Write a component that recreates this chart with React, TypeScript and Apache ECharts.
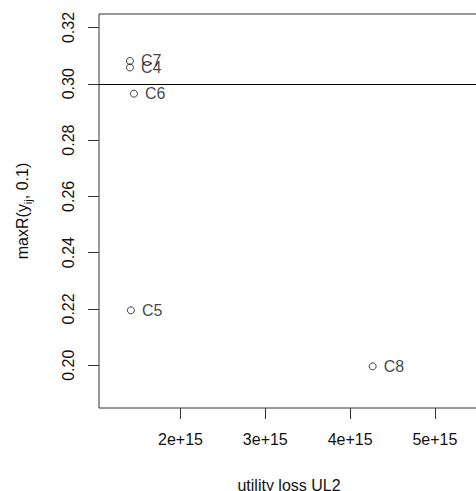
import React, { useEffect, useRef } from "react";
import * as echarts from "echarts";

const labels = ["C7", "C4", "C6", "C5", "C8"];
const xValues = [1.404e15, 1.404e15, 1.451e15, 1.415e15, 4.266e15];
const yValues = [0.3081, 0.3058, 0.2965, 0.2195, 0.1996];
const xTicks = [2e15, 3e15, 4e15, 5e15];
const yTicks = [0.2, 0.22, 0.24, 0.26, 0.28, 0.3, 0.32];
const hLine = 0.3;

const FONT = "'Liberation Sans', Arial, sans-serif";
const INK = "#111";

export default function App() {
  const ref = useRef<HTMLDivElement>(null);
  useEffect(() => {
    if (!ref.current) return;
    const chart = echarts.init(ref.current, null, { renderer: "svg" });
    const data = labels.map((l, i) => ({ name: l, value: [xValues[i], yValues[i]] }));
    chart.setOption({
      animation: false,
      backgroundColor: "#fff",
      textStyle: { fontFamily: FONT },
      grid: {
        left: 99,
        top: 14,
        right: -3,
        bottom: 83,
        show: true,
        borderColor: "#333",
        borderWidth: 1,
        containLabel: false,
        outerBoundsMode: "none",
      },
      xAxis: {
        type: "value",
        min: 1.039e15,
        max: 5.52e15,
        splitLine: { show: false },
        axisLine: { show: false },
        axisTick: { show: true, inside: false, length: 11, customValues: xTicks, lineStyle: { color: "#333" } },
        axisLabel: {
          customValues: xTicks,
          formatter: (v: number) => `${Math.round(v / 1e15)}e+15`,
          fontSize: 16,
          color: INK,
          margin: 23,
          fontFamily: FONT,
        },
        name: "utility loss UL2",
        nameLocation: "middle",
        nameGap: 69,
        nameTextStyle: { fontSize: 16, color: INK, fontFamily: FONT },
      },
      yAxis: {
        type: "value",
        min: 0.1848,
        max: 0.3248,
        splitLine: { show: false },
        axisLine: { show: false },
        axisTick: { show: true, inside: false, length: 11, customValues: yTicks, lineStyle: { color: "#333" } },
        axisLabel: {
          customValues: yTicks,
          formatter: (v: number) => v.toFixed(2),
          rotate: 90,
          fontSize: 16,
          color: INK,
          margin: 23,
          fontFamily: FONT,
        },
      },
      graphic: [
        {
          type: "text",
          x: 22,
          y: 211,
          rotation: Math.PI / 2,
          style: {
            text: "{a|maxR(y}{b|ij}{a|, 0.1)}",
            align: "center",
            verticalAlign: "middle",
            fill: INK,
            rich: {
              a: { fontSize: 16, lineHeight: 22, fontFamily: FONT, fill: INK },
              b: { fontSize: 11, lineHeight: 13, verticalAlign: "bottom", fontFamily: FONT, fill: INK },
            },
          },
        },
      ],
      series: [
        {
          type: "scatter",
          data,
          symbol: "circle",
          symbolSize: 7,
          itemStyle: { color: "transparent", borderColor: "#111", borderWidth: 1 },
          label: {
            show: true,
            position: "right",
            distance: 7,
            formatter: (p: any) => p.name,
            fontSize: 16,
            color: INK,
            fontFamily: FONT,
          },
          markLine: {
            silent: true,
            symbol: ["none", "none"],
            label: { show: false },
            lineStyle: { color: "#000", width: 1, type: "solid" },
            data: [{ yAxis: hLine }],
          },
        },
      ],
    });
    return () => chart.dispose();
  }, []);
  return (
    <div
      ref={ref}
      style={{ position: "fixed", left: 0, top: 0, width: 476, height: 491 }}
    />
  );
}
